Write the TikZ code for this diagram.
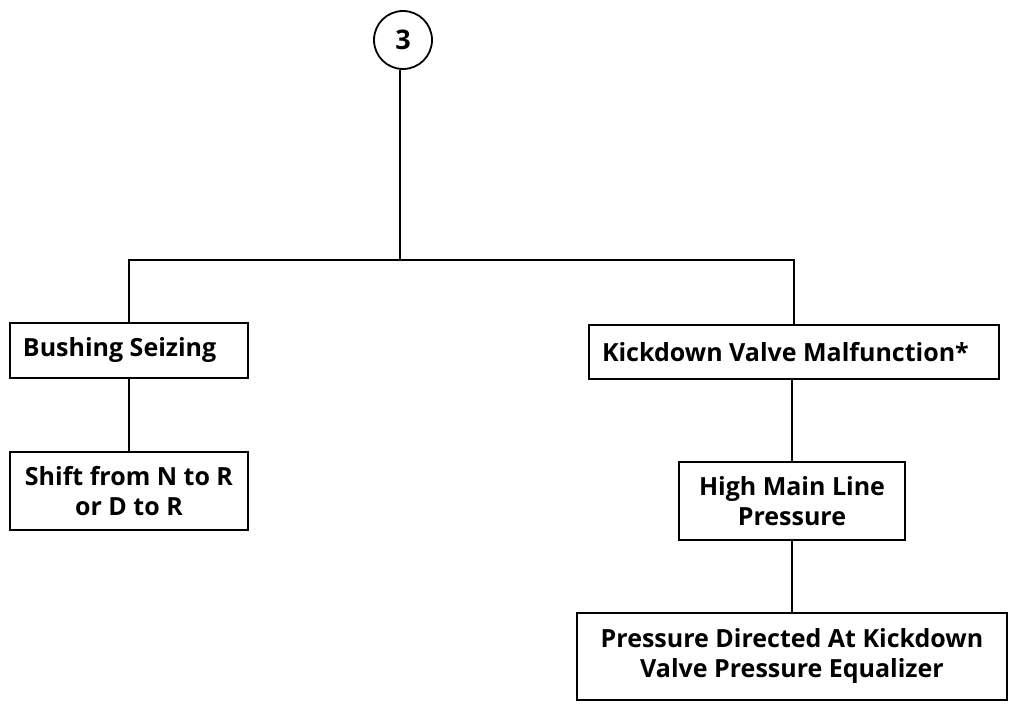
\documentclass[tikz,border=0pt]{standalone}
\usepackage{fontspec}
\setmainfont{Open Sans}
\begin{document}
\begin{tikzpicture}[x=1pt,y=-1pt,
  line width=2.2pt,
  txt/.style={font=\fontsize{25}{30}\selectfont\bfseries},
  box/.style={draw,rectangle,inner sep=0pt,txt}]
\useasboundingbox (0,0) rectangle (1011,708);
\node[draw,circle,line width=1.8pt,minimum size=58pt,inner sep=0pt,font=\fontsize{27}{30}\selectfont\bfseries] (circ) at (403,40) {3};
\node[box,minimum width=238pt,minimum height=55pt] (bush) at (129,350.5) {\makebox[212pt][l]{Bushing Seizing}};
\node[box,minimum width=238pt,minimum height=78pt,align=center] (shift) at (129,491) {Shift from N to R\\or D to R};
\node[box,minimum width=410pt,minimum height=54pt] (kick) at (794,352) {\makebox[384pt][l]{Kickdown Valve Malfunction*}};
\node[box,minimum width=226pt,minimum height=78pt,align=center] (high) at (792,501) {High Main Line\\Pressure};
\node[box,minimum width=430pt,minimum height=87pt,align=center] (press) at (792,656.5) {Pressure Directed At Kickdown\\Valve Pressure Equalizer};
\coordinate (j) at (400,260);
\draw (circ.south -| j) -- (j);
\draw (bush.north) |- (j) -| (kick.north);
\draw (bush.south) -- (shift.north);
\draw (kick.south -| high.north) -- (high.north);
\draw (high.south) -- (press.north);
\end{tikzpicture}
\end{document}
